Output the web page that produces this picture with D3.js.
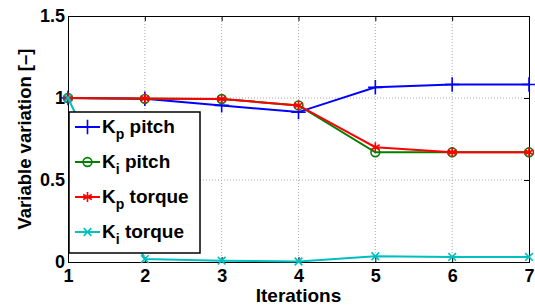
<!DOCTYPE html>
<html>
<head>
<meta charset="utf-8">
<script src="https://cdn.jsdelivr.net/npm/d3@7"></script>
<style>
  body { margin: 0; background: #fff; }
  svg { font-family: "Liberation Sans", Arial, sans-serif; font-weight: bold; }
</style>
</head>
<body>
<div id="chart"></div>
<script>
const iterations = [1, 2, 3, 4, 5, 6, 7];
const kpPitch = [1.0, 0.995, 0.955, 0.914, 1.065, 1.082, 1.082];
const kiPitch = [1.0, 0.995, 0.994, 0.955, 0.669, 0.669, 0.669];
const kpTorque = [1.0, 0.997, 0.994, 0.955, 0.70, 0.669, 0.669];
const kiTorque = [1.0, 0.018, 0.008, 0.003, 0.035, 0.031, 0.031];
const yTicks = [0, 0.5, 1, 1.5];
const yTickLabels = ["0", "0.5", "1", "1.5"];

const w = 535, h = 306;
const margin = { left: 68, right: 6, top: 16, bottom: 44 };

const svg = d3.select("#chart").append("svg")
  .attr("width", w)
  .attr("height", h);

const x = d3.scaleLinear().domain([1, 7]).range([margin.left, w - margin.right]);
const y = d3.scaleLinear().domain([0, 1.5]).range([h - margin.bottom, margin.top]);

// grid
svg.append("g").selectAll("line")
  .data(iterations.slice(1, -1))
  .enter().append("line")
  .attr("x1", d => x(d)).attr("x2", d => x(d))
  .attr("y1", y(0)).attr("y2", y(1.5))
  .attr("stroke", "#aaa").attr("stroke-width", 1).attr("stroke-dasharray", "1,2");
svg.append("g").selectAll("line")
  .data(yTicks.slice(1, -1))
  .enter().append("line")
  .attr("x1", x(1)).attr("x2", x(7))
  .attr("y1", d => y(d)).attr("y2", d => y(d))
  .attr("stroke", "#aaa").attr("stroke-width", 1).attr("stroke-dasharray", "1,2");

// axes (inward ticks, box)
const tickLen = 5;
svg.append("g").attr("transform", `translate(0,${y(0)})`)
  .call(d3.axisBottom(x).tickValues(iterations).tickSize(-tickLen).tickPadding(7).tickFormat(d3.format("d")));
svg.append("g").attr("transform", `translate(0,${y(1.5)})`)
  .call(d3.axisTop(x).tickValues(iterations).tickSize(-tickLen).tickFormat(""));
svg.append("g").attr("transform", `translate(${x(1)},0)`)
  .call(d3.axisLeft(y).tickValues(yTicks).tickSize(-tickLen).tickPadding(3).tickFormat((d, i) => yTickLabels[i]));
svg.append("g").attr("transform", `translate(${x(7)},0)`)
  .call(d3.axisRight(y).tickValues(yTicks).tickSize(-tickLen).tickFormat(""));

svg.selectAll(".domain").attr("stroke", "#000").attr("stroke-width", 1);
svg.selectAll(".tick line").attr("stroke", "#000");
svg.selectAll(".tick text")
  .attr("fill", "#000")
  .style("font-size", "18px")
  .style("font-weight", "bold")
  .style("font-family", "'Liberation Sans', Arial, sans-serif");

// series
const series = [
  { name: "p", label: " pitch", values: kpPitch, color: "#0000ff", symbol: d3.symbolPlus, size: 70, fill: "none" },
  { name: "i", label: " pitch", values: kiPitch, color: "#008000", symbol: d3.symbolCircle, size: 60, fill: "none" },
  { name: "p", label: " torque", values: kpTorque, color: "#ff0000", symbol: d3.symbolAsterisk, size: 70, fill: "none" },
  { name: "i", label: " torque", values: kiTorque, color: "#00bfbf", symbol: d3.symbolTimes, size: 40, fill: "none" }
];

const line = d3.line().x((d, i) => x(iterations[i])).y(d => y(d));

series.forEach(s => {
  const g = svg.append("g");
  g.append("path")
    .datum(s.values)
    .attr("d", line)
    .attr("fill", "none")
    .attr("stroke", s.color)
    .attr("stroke-width", 2);
  g.selectAll("path.m")
    .data(s.values)
    .enter().append("path")
    .attr("class", "m")
    .attr("transform", (d, i) => `translate(${x(iterations[i])},${y(d)})`)
    .attr("d", d3.symbol().type(s.symbol).size(s.size))
    .attr("fill", s.fill)
    .attr("stroke", s.color)
    .attr("stroke-width", 1.6);
});

// legend
const legend = svg.append("g").attr("transform", "translate(69,112)");
legend.append("rect")
  .attr("width", 131).attr("height", 141)
  .attr("fill", "#fff").attr("stroke", "#000").attr("stroke-width", 1.5);

series.forEach((s, i) => {
  const ly = 15 + i * 35;
  const row = legend.append("g").attr("transform", `translate(0,${ly})`);
  row.append("line")
    .attr("x1", 6).attr("x2", 31).attr("y1", 0).attr("y2", 0)
    .attr("stroke", s.color).attr("stroke-width", 2);
  row.append("path")
    .attr("transform", "translate(18.5,0)")
    .attr("d", d3.symbol().type(s.symbol).size(s.size))
    .attr("fill", s.fill).attr("stroke", s.color).attr("stroke-width", 1.6);
  const t = row.append("text")
    .attr("x", 33).attr("y", 6)
    .style("font-size", "19px")
    .attr("fill", "#000");
  t.append("tspan").text("K");
  t.append("tspan").attr("dy", 6).style("font-size", "14px").text(s.name);
  t.append("tspan").attr("dy", -6).text(s.label);
});

// axis labels
svg.append("text")
  .attr("x", (x(1) + x(7)) / 2)
  .attr("y", 302)
  .attr("text-anchor", "middle")
  .style("font-size", "19px")
  .text("Iterations");

svg.append("text")
  .attr("transform", `translate(31,${(y(0) + y(1.5)) / 2}) rotate(-90)`)
  .attr("text-anchor", "middle")
  .style("font-size", "18.5px")
  .text("Variable variation [\u2013]");
</script>
</body>
</html>
